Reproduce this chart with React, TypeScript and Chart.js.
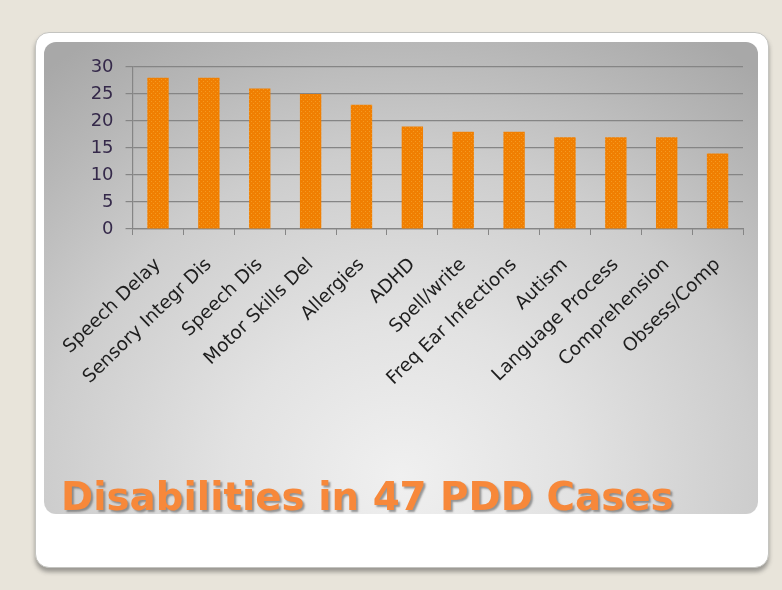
import React, { useEffect, useRef } from "react";
import { Chart, registerables } from "chart.js";

Chart.register(...registerables);

const categories = [
  "Speech Delay",
  "Sensory Integr Dis",
  "Speech Dis",
  "Motor Skills Del",
  "Allergies",
  "ADHD",
  "Spell/write",
  "Freq Ear Infections",
  "Autism",
  "Language Process",
  "Comprehension",
  "Obsess/Comp",
];
const cases = [28, 28, 26, 25, 23, 19, 18, 18, 17, 17, 17, 14];
const yMin = 0;
const yMax = 30;
const yStep = 5;
const titleText = "Disabilities in 47 PDD Cases";

function makePattern(): CanvasPattern | string {
  const c = document.createElement("canvas");
  c.width = 4;
  c.height = 4;
  const g = c.getContext("2d");
  if (!g) return "#f08000";
  g.fillStyle = "#f07f02";
  g.fillRect(0, 0, 4, 4);
  g.fillStyle = "#f59a20";
  g.fillRect(1, 1, 1, 1);
  g.fillRect(3, 3, 1, 1);
  const p = g.createPattern(c, "repeat");
  return p || "#f08000";
}

export default function App() {
  const ref = useRef<HTMLCanvasElement | null>(null);

  useEffect(() => {
    if (!ref.current) return;
    const chart = new Chart(ref.current, {
      type: "bar",
      data: {
        labels: categories,
        datasets: [
          {
            data: cases,
            backgroundColor: makePattern() as any,
            borderWidth: 0,
            categoryPercentage: 1,
            barPercentage: 0.42,
          },
        ],
      },
      options: {
        responsive: false,
        animation: false,
        layout: { padding: { top: 25, right: 15, left: 0, bottom: 0 } },
        plugins: {
          legend: { display: false },
          tooltip: { enabled: false },
          title: { display: false },
        },
        scales: {
          x: {
            grid: {
              display: true,
              drawOnChartArea: false,
              drawTicks: true,
              tickLength: 6,
              color: "#858585",
              offset: true,
            },
            border: { display: true, color: "#858585", width: 1.2 },
            ticks: {
              autoSkip: false,
              maxRotation: 44,
              minRotation: 44,
              padding: 19,
              color: "#1e1e1e",
              font: { family: "DejaVu Sans", size: 18.5 },
            },
            afterFit: (s: any) => {
              s.height = 286;
            },
          },
          y: {
            min: yMin,
            max: yMax,
            ticks: {
              stepSize: yStep,
              padding: 12,
              color: "#35294a",
              font: { family: "DejaVu Sans", size: 18 },
            },
            grid: {
              color: "#858585",
              lineWidth: 1.2,
              tickLength: 7,
            },
            border: { display: true, color: "#858585", width: 1.2 },
            afterFit: (s: any) => {
              s.width = 86;
            },
          },
        },
      },
    });
    return () => chart.destroy();
  }, []);

  return (
    <div
      style={{
        position: "absolute",
        left: 0,
        top: 0,
        width: 782,
        height: 590,
        overflow: "hidden",
        background: "#e8e4da",
      }}
    >
      <div
        style={{
          position: "absolute",
          left: 35,
          top: 32,
          width: 732,
          height: 534,
          borderRadius: 14,
          background: "#ffffff",
          border: "1px solid #c4c4c0",
          boxShadow: "0 4px 4px rgba(60,60,60,0.45)",
        }}
      />
      <div
        style={{
          position: "absolute",
          left: 44,
          top: 42,
          width: 714,
          height: 472,
          borderRadius: 12,
          background:
            "radial-gradient(ellipse 80% 110% at 50% 92%, #f0f0f0 0%, #e2e2e2 30%, #cdcdcd 62%, #b6b6b6 85%, #a8a8a8 100%)",
        }}
      />
      <canvas
        ref={ref}
        width={714}
        height={473}
        style={{ position: "absolute", left: 44, top: 42, width: 714, height: 473 }}
      />
      <div
        style={{
          position: "absolute",
          left: 61,
          top: 478,
          fontFamily: "'DejaVu Sans', Verdana, sans-serif",
          fontWeight: "bold",
          fontSize: 38.8,
          lineHeight: 1,
          whiteSpace: "nowrap",
          color: "#f7883a",
          textShadow: "2px 2px 2px rgba(90,90,90,0.6)",
        }}
      >
        {titleText}
      </div>
    </div>
  );
}
